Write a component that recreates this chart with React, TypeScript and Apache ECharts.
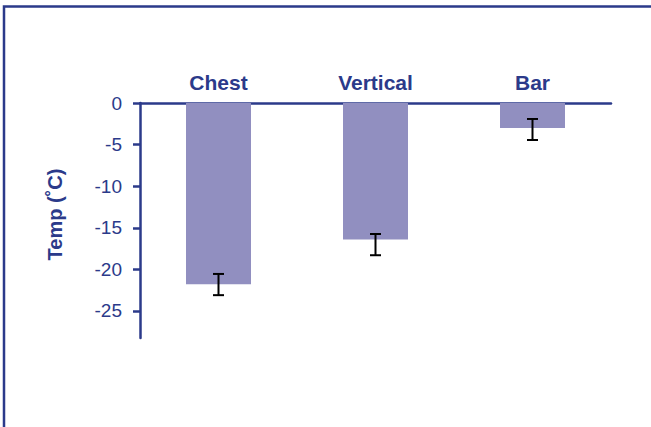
import React, { useEffect, useRef } from "react";
import * as echarts from "echarts";

const categories = ["Chest", "Vertical", "Bar"];
const temps = [-21.8, -16.4, -3.0];
const errLow = [-23.1, -18.3, -4.45];
const errHigh = [-20.55, -15.75, -1.92];
const tickValues = [0, -5, -10, -15, -20, -25];

const NAVY = "#2b3a8a";
const BAR = "#918fc0";

export default function App() {
  const ref = useRef<HTMLDivElement>(null);
  useEffect(() => {
    if (!ref.current) return;
    const chart = echarts.init(ref.current, null, { renderer: "svg" });
    const errData = categories.map((c, i) => [i, errLow[i], errHigh[i]]);
    chart.setOption({
      animation: false,
      backgroundColor: "#ffffff",
      grid: { left: 140, right: 40, top: 103, bottom: 89 },
      xAxis: {
        type: "category",
        data: categories,
        position: "top",
        axisLine: { onZero: false, lineStyle: { color: NAVY, width: 2.5 } },
        axisTick: { show: false },
        axisLabel: {
          color: NAVY,
          fontFamily: "Liberation Sans, Arial, sans-serif",
          fontWeight: "bold",
          fontSize: 21,
          margin: 10,
        },
        splitLine: { show: false },
      },
      yAxis: {
        type: "value",
        min: -28.25,
        max: 0,
        name: "Temp (˚C)",
        nameLocation: "middle",
        nameGap: 75,
        nameRotate: 90,
        nameTextStyle: {
          color: NAVY,
          fontFamily: "Liberation Sans, Arial, sans-serif",
          fontWeight: "bold",
          fontSize: 20,
          padding: [0, 0, 0, 12],
        },
        axisLine: { show: true, lineStyle: { color: NAVY, width: 2.5 } },
        axisTick: {
          show: true,
          length: 7,
          customValues: tickValues,
          lineStyle: { color: NAVY, width: 2.5 },
        },
        axisLabel: {
          customValues: tickValues,
          color: NAVY,
          fontFamily: "Liberation Sans, Arial, sans-serif",
          fontSize: 19,
          margin: 18,
        },
        splitLine: { show: false },
      },
      series: [
        {
          type: "bar",
          data: temps,
          barWidth: 65,
          itemStyle: { color: BAR },
        },
        {
          type: "custom",
          data: errData,
          z: 10,
          renderItem: (params: any, api: any) => {
            const x = api.value(0);
            const lo = api.coord([x, api.value(1)]);
            const hi = api.coord([x, api.value(2)]);
            const half = 5.5;
            const style = { stroke: "#000000", lineWidth: 2 };
            return {
              type: "group",
              children: [
                { type: "line", shape: { x1: lo[0], y1: lo[1], x2: hi[0], y2: hi[1] }, style },
                { type: "line", shape: { x1: lo[0] - half, y1: lo[1], x2: lo[0] + half, y2: lo[1] }, style },
                { type: "line", shape: { x1: hi[0] - half, y1: hi[1], x2: hi[0] + half, y2: hi[1] }, style },
              ],
            };
          },
        },
      ],
      graphic: [
        {
          type: "polyline",
          shape: { points: [[4, 427], [4, 6.5], [651, 6.5]] },
          style: { stroke: NAVY, lineWidth: 2.5, fill: "none" },
          silent: true,
        },
      ],
    });
    return () => chart.dispose();
  }, []);
  return (
    <div
      ref={ref}
      style={{ position: "fixed", left: 0, top: 0, width: 651, height: 427 }}
    />
  );
}
